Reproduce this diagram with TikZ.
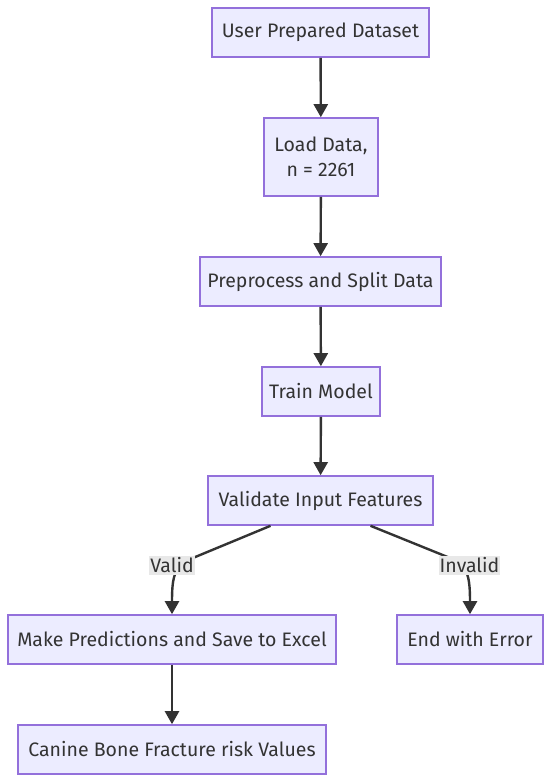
\documentclass[tikz,border=0pt]{standalone}
\usepackage{fontspec}
\setmainfont{Fira Sans}
\usetikzlibrary{arrows.meta}
\definecolor{boxfill}{HTML}{ECECFF}
\definecolor{boxline}{HTML}{9370DB}
\definecolor{edge}{HTML}{333333}
\definecolor{lblbg}{HTML}{E8E8E8}
\begin{document}
\begin{tikzpicture}[x=1pt,y=-1pt,
  box/.style={draw=boxline,fill=boxfill,line width=1.6pt,text=edge,font=\fontsize{19.5}{25}\selectfont,align=center,inner sep=0pt},
  conn/.style={draw=edge,line width=2.4pt,-{Triangle[length=13pt,width=14pt]}},
  lbl/.style={fill=lblbg,text=edge,font=\fontsize{19.5}{22}\selectfont,inner xsep=1pt,inner ysep=2pt}]
\useasboundingbox (0,0) rectangle (550,782);
\node[box,minimum width=217pt,minimum height=49pt] (a) at (320.5,32.5) {User Prepared Dataset};
\node[box,minimum width=114pt,minimum height=78pt] (b) at (321,157) {Load Data,\\n = 2261};
\node[box,minimum width=241pt,minimum height=49pt] (c) at (320.5,281.5) {Preprocess and Split Data};
\node[box,minimum width=118pt,minimum height=49pt] (d) at (321,391.5) {Train Model};
\node[box,minimum width=225pt,minimum height=49pt] (e) at (320.5,500.5) {Validate Input Features};
\node[box,minimum width=328pt,minimum height=49pt] (f) at (172,639.5) {Make Predictions and Save to Excel};
\node[box,minimum width=146pt,minimum height=49pt] (g) at (470,639.5) {End with Error};
\node[box,minimum width=308pt,minimum height=49pt] (h) at (172,749.5) {Canine Bone Fracture risk Values};
\draw[conn] (a) -- (b);
\draw[conn] (b) -- (c);
\draw[conn] (c) -- (d);
\draw[conn] (d) -- (e);
\draw[conn] (f) -- (h);
\coordinate (v1) at (188,560);
\coordinate (i1) at (455,560);
\draw[conn] ([xshift=-50pt]e.south) -- (v1) .. controls (174,568) and (172,578) .. (f.north);
\draw[conn] ([xshift=50pt]e.south) -- (i1) .. controls (468,568) and (470,578) .. (g.north);
\node[lbl] (vl) at (172,565.5) {Valid};
\node[lbl] (il) at (469.5,565.5) {Invalid};
\end{tikzpicture}
\end{document}
